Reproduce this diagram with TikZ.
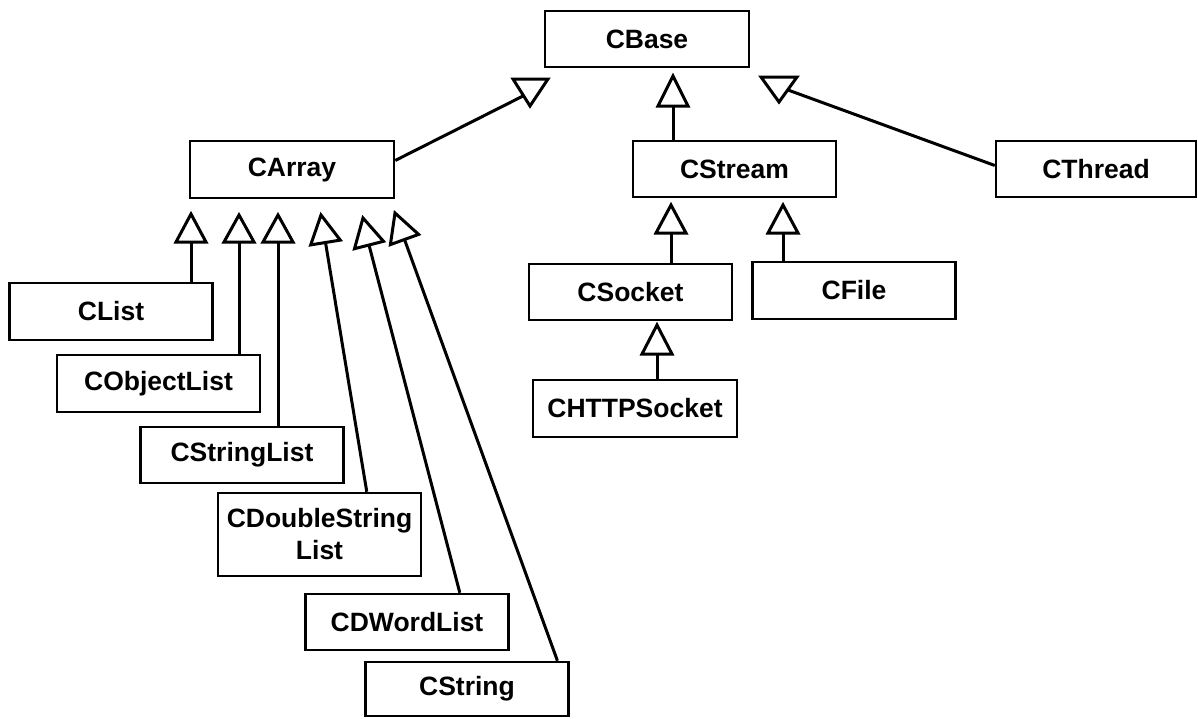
\documentclass[tikz,border=0pt]{standalone}
\usepackage{fontspec}
\setmainfont{Liberation Sans}
\usetikzlibrary{calc}
\begin{document}
\begin{tikzpicture}[x=1pt,y=-1pt,
  classbox/.style={draw, line width=2.5pt, rectangle, inner sep=0pt,
    minimum width=203pt, minimum height=56pt, align=center,
    font=\bfseries\fontsize{26.5}{32}\selectfont},
  conn/.style={line width=3pt},
  gentri/.style={draw, line width=3pt, fill=white, line join=miter}]
\useasboundingbox (0,0) rectangle (1198,718);

% class boxes
\node[classbox, minimum width=204pt] (CBase) at (647,39) {CBase};
\node[classbox, minimum width=204pt, minimum height=57pt] (CArray) at (292,169.5) {CArray};
\node[classbox] (CStream) at (734.5,169) {CStream};
\node[classbox, minimum width=200pt] (CThread) at (1096,169) {CThread};
\node[classbox] (CSocket) at (630.5,292) {CSocket};
\node[classbox, minimum height=57pt] (CFile) at (854,290.5) {CFile};
\node[classbox, minimum width=204pt, minimum height=57pt] (CHTTPSocket) at (635,408.5) {CHTTPSocket};
\node[classbox, minimum height=57pt] (CList) at (111,311.5) {CList};
\node[classbox, minimum height=57pt] (CObjectList) at (158.5,383.5) {CObjectList};
\node[classbox] (CStringList) at (242,455) {CStringList};
\node[classbox, minimum height=83pt] (CDSL) at (319.5,534.5) {CDoubleString\\List};
\node[classbox] (CDWordList) at (407,622) {CDWordList};
\node[classbox, minimum height=54pt] (CString) at (467,689) {CString};

% attachment points of the generalisation triangles
\coordinate (t1) at (525,95);
\coordinate (t3) at (788,90);
\coordinate (s1) at (673,106);
\coordinate (s2) at (671,233);
\coordinate (s3) at (783,233);
\coordinate (s4) at (657,354);
\coordinate (a1) at (191,242);
\coordinate (a2) at (239,242);
\coordinate (a3) at (278,242);
\coordinate (a4) at (325.5,242.5);
\coordinate (a5) at (369,245);
\coordinate (a6) at (404.5,239.5);

% inheritance connectors
\draw[conn] (CArray.5) -- (t1);
\draw[conn] (CThread.178) -- (t3);
\draw[conn] (s1) -- (s1 |- CStream.north);
\draw[conn] (s2) -- (s2 |- CSocket.north);
\draw[conn] (s3) -- (s3 |- CFile.north);
\draw[conn] (s4) -- (s4 |- CHTTPSocket.north);
\draw[conn] (a1) -- (a1 |- CList.north);
\draw[conn] (a2) -- (a2 |- CObjectList.north);
\draw[conn] (a3) -- (a3 |- CStringList.north);
\draw[conn] (a4) -- ($(CDSL.north west)!0.73!(CDSL.north east)$);
\draw[conn] (a5) -- ($(CDWordList.north west)!0.757!(CDWordList.north east)$);
\draw[conn] (a6) -- ($(CString.north west)!0.94!(CString.north east)$);

% hollow triangle heads
\draw[gentri] (513,79) -- (548,79) -- (530,106) -- cycle;
\draw[gentri] (761,77) -- (797,77) -- (779,102) -- cycle;
\draw[gentri] (673,76) -- (658,106) -- (688,106) -- cycle;
\draw[gentri] (671,205) -- (656,233) -- (686,233) -- cycle;
\draw[gentri] (783,205) -- (768,233) -- (798,233) -- cycle;
\draw[gentri] (657,325) -- (642,354) -- (672,354) -- cycle;
\draw[gentri] (191,214) -- (176,242) -- (206,242) -- cycle;
\draw[gentri] (239,215) -- (224,242) -- (254,242) -- cycle;
\draw[gentri] (278,215) -- (263,242) -- (293,242) -- cycle;
\draw[gentri] (321,215) -- (310.7,244.9) -- (340.3,240.1) -- cycle;
\draw[gentri] (363,218) -- (354.5,248.7) -- (383.5,241.3) -- cycle;
\draw[gentri] (395,213) -- (390.4,244.6) -- (418.6,234.4) -- cycle;
\end{tikzpicture}
\end{document}
